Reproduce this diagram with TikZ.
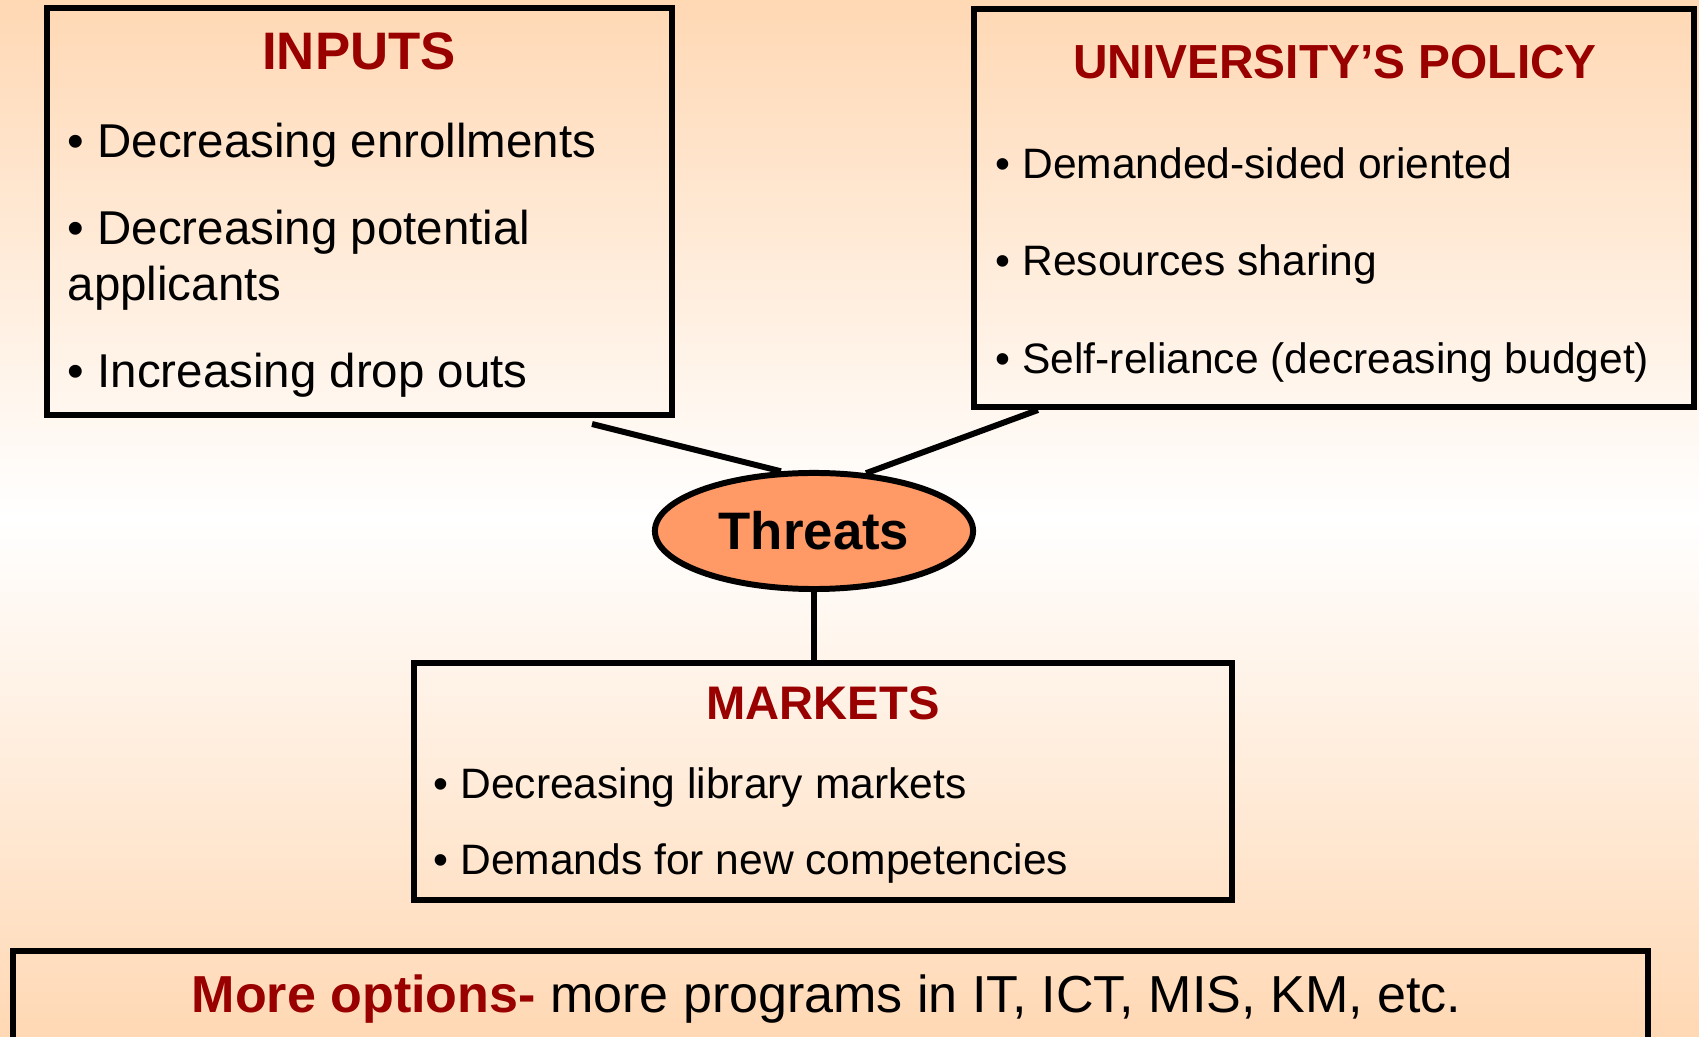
\documentclass[tikz,border=0pt]{standalone}
\usepackage{fontspec}
\setmainfont{Liberation Sans}
\usetikzlibrary{shapes.geometric}
\definecolor{peach}{RGB}{255,216,180}
\definecolor{darkred}{RGB}{153,0,0}
\definecolor{threatfill}{RGB}{255,153,102}

\begin{document}
\begin{tikzpicture}[x=0.01cm,y=-0.01cm,
	box/.style={draw,line width=1.7pt,inner sep=0pt},
	head/.style={anchor=base,inner sep=0pt,text=darkred,font=\bfseries\fontsize{#1}{#1}\selectfont},
	item/.style={anchor=base west,inner sep=0pt,font=\fontsize{#1}{#1}\selectfont},
	link/.style={line width=1.7pt}]
\useasboundingbox (0,0) rectangle (1699,1037);
\shade[top color=peach,bottom color=peach,middle color=white] (0,0) rectangle (1699,1037);

\node[box,minimum width=6.25cm,minimum height=4.07cm] (inputs) at (359.5,211.5) {};
\node[box,minimum width=7.2cm,minimum height=3.98cm] (policy) at (1334,208) {};
\node[box,minimum width=8.18cm,minimum height=2.37cm] (markets) at (823,781.5) {};
\node[box,minimum width=16.35cm,minimum height=2cm] (options) at (830.5,1051) {};
\node[box,ellipse,fill=threatfill,minimum width=3.18cm,minimum height=1.16cm,font=\bfseries\fontsize{15}{15}\selectfont] (threats) at (814,531) {Threats};

\node[head=15] (inputshead) at (359,70) {INPUTS};
\node[item=13.5] (in1) at (67,158) {• Decreasing enrollments};
\node[item=13.5] (in2) at (67,245) {• Decreasing potential};
\node[item=13.5] (in3) at (67,301) {applicants};
\node[item=13.5] (in4) at (67,388) {• Increasing drop outs};

\node[head=13.6] (policyhead) at (1335,79) {UNIVERSITY’S POLICY};
\node[item=12.1] (po1) at (995,179) {• Demanded-sided oriented};
\node[item=12.1] (po2) at (995,276) {• Resources sharing};
\node[item=12.1] (po3) at (995,374) {• Self-reliance (decreasing budget)};

\node[head=13.4] (marketshead) at (823,720) {MARKETS};
\node[item=12.1] (ma1) at (433,799) {• Decreasing library markets};
\node[item=12.1] (ma2) at (433,875) {• Demands for new competencies};

\node[item=14.8] (optionstext) at (191,1013) {\textcolor{darkred}{\bfseries More options-} more programs in IT, ICT, MIS, KM, etc.};

\coordinate (inputsfoot) at (592,424);
\coordinate (policyfoot) at (1038,410);
\path[link]
(inputsfoot) edge (threats.119)
(policyfoot) edge (threats.48)
(threats.south) edge (threats.south |- markets.north)
;
\end{tikzpicture}
\end{document}
